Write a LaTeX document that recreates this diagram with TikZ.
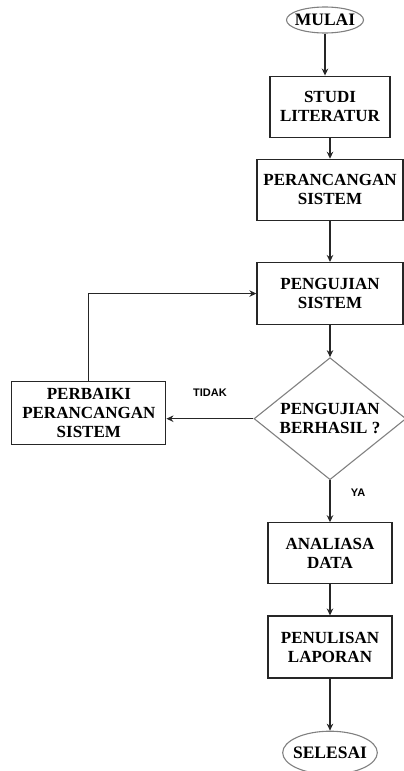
\documentclass[tikz,border=0pt]{standalone}
\usepackage{fontspec}
\setmainfont{Liberation Serif}
\newfontfamily\labelfont{Liberation Sans}
\usetikzlibrary{positioning,arrows.meta,shapes.geometric}

\tikzset{
  stepbox/.style={draw=black!85,line width=1.2pt,align=center,inner sep=0pt,
    font=\fontsize{17}{19}\selectfont\bfseries},
  terminal/.style={ellipse,draw=black!50,line width=1.1pt,inner xsep=-4pt,inner ysep=0pt,
    font=\fontsize{17.5}{19}\selectfont\bfseries},
  decision/.style={diamond,draw=black!50,line width=1.1pt,align=center,inner sep=-4pt,
    font=\fontsize{17}{19}\selectfont\bfseries},
  answer/.style={font=\labelfont\fontsize{11}{13}\selectfont\bfseries},
}

\begin{document}
\begin{tikzpicture}[>={Stealth[length=7pt,width=6.5pt]},line width=1.2pt,draw=black!85]
\useasboundingbox (0,0) rectangle (404pt,-771pt);
\node[terminal,minimum width=77pt,minimum height=26pt] (s0) at (325pt,-20pt) {MULAI};
\node[stepbox,minimum width=120pt,minimum height=61pt] (s1) [below=42pt of s0,xshift=5pt] {STUDI\\LITERATUR};
\node[stepbox,minimum width=146pt,minimum height=61pt] (s2) [below=21pt of s1] {PERANCANGAN\\SISTEM};
\node[stepbox,minimum width=146pt,minimum height=62pt] (s3) [below=41pt of s2] {PENGUJIAN\\SISTEM};
\node[decision,minimum width=152pt,minimum height=122pt] (d) [below=32pt of s3] {PENGUJIAN\\BERHASIL ?};
\node[stepbox,minimum width=154pt,minimum height=63pt] (p) [left=87pt of d,yshift=5.5pt] {PERBAIKI\\PERANCANGAN\\SISTEM};
\node[stepbox,minimum width=124pt,minimum height=61pt] (s4) [below=42pt of d] {ANALIASA\\DATA};
\node[stepbox,minimum width=124pt,minimum height=62pt] (s5) [below=31pt of s4] {PENULISAN\\LAPORAN};
\node[terminal,minimum width=92pt,minimum height=43pt,inner xsep=-3.5pt] (s6) [below=52pt of s5] {SELESAI};

\draw[->] (s0) -- (s0 |- s1.north);
\draw[->] (s1) -- (s2);
\draw[->] (s2) -- (s3);
\draw[->] (s3) -- (d);
\draw[->] (d) -- (s4) node[pos=0.3,right=17pt,answer] (ya) {YA};
\draw[->] (d.west) -- (d.west -| p.east) node[midway,above=18pt,answer] (tidak) {TIDAK};
\draw[->] (p) |- (s3);
\draw[->] (s4) -- (s5);
\draw[->] (s5) -- (s6);
\end{tikzpicture}
\end{document}
